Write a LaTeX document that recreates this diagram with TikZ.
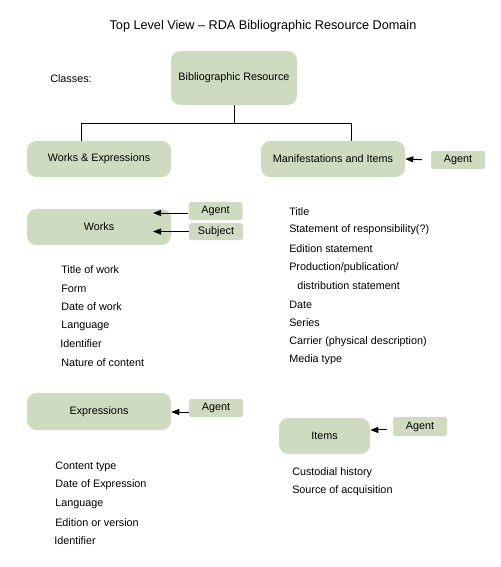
\documentclass[tikz,border=0pt]{standalone}
\usepackage{fontspec}
\setmainfont{Liberation Sans}
\usetikzlibrary{arrows.meta}
\definecolor{sage}{RGB}{207,219,192}
\begin{document}
\begin{tikzpicture}[x=0.75pt,y=-0.75pt,
  every node/.style={font=\fontsize{8.1}{9.5}\selectfont, inner sep=0pt},
  big/.style={fill=sage, rounded corners=7pt, minimum width=108pt, minimum height=27pt},
  small/.style={fill=sage, rounded corners=2pt, minimum width=40.5pt, minimum height=13.5pt},
  attr/.style={anchor=west},
  arr/.style={-{Triangle[length=6pt,width=4.5pt]}, line width=0.75pt},
  conn/.style={line width=0.75pt}]
\useasboundingbox (0,0) rectangle (500,567);
\node (title) at (263,26) {\fontsize{9.5}{11}\selectfont Top Level View – RDA Bibliographic Resource Domain};
\node[attr] (classes) at (50,79) {Classes:};
\node[big, minimum width=94.5pt, minimum height=40.5pt] (br) at (234,78) {Bibliographic Resource};
\node[big] (we) at (99,159) {Works \& Expressions};
\node[big] (mi) at (333,159) {Manifestations and Items};
\node[small] (am) at (458,160) {Agent};
\coordinate (jl) at (81,123);
\coordinate (jr) at (351,123);
\draw[conn] (br.south) -- (br.south |- jl);
\draw[conn] (jl |- we.north) -- (jl) -- (jr) -- (jr |- mi.north);
\draw[arr, shorten <=6.75pt] (am.west) -- (mi.east);

\node[big] (wk) at (99,227) {Works};
\node[small] (aw) at (215.5,211) {Agent};
\node[small, minimum height=12.75pt] (sw) at (216,231.5) {Subject};
\coordinate (wtip) at (153,227);
\draw[arr] ([yshift=-1.5pt]aw.west) -- ([yshift=-1.5pt]aw.west -| wtip);
\draw[arr] (sw.west) -- (sw.west -| wtip);

\node[attr] (w1) at (61,270) {Title of work};
\node[attr] (w2) at (61,289) {Form};
\node[attr] (w3) at (61,307) {Date of work};
\node[attr] (w4) at (61,326) {Language};
\node[attr] (w5) at (60,344) {Identifier};
\node[attr] (w6) at (61,363) {Nature of content};

\node[attr] (m1) at (289,212) {Title};
\node[attr] (m2) at (289,230) {Statement of responsibility(?)};
\node[attr] (m3) at (289,249) {Edition statement};
\node[attr] (m4) at (289,268) {Production/publication/};
\node[attr] (m5) at (297,286) {distribution statement};
\node[attr] (m6) at (289,305) {Date};
\node[attr] (m7) at (289,323) {Series};
\node[attr] (m8) at (289,342) {Carrier (physical description)};
\node[attr] (m9) at (289,360) {Media type};

\node[big, minimum height=27.75pt] (ex) at (99,411.5) {Expressions};
\node[small] (ae) at (216,408) {Agent};
\draw[arr] ([yshift=-3pt]ae.west) -- ([yshift=-3pt]ae.west -| ex.east);

\node[big, minimum width=68.25pt] (it) at (324.5,436) {Items};
\node[small, minimum height=14.25pt] (ai) at (420,426.5) {Agent};
\draw[arr, shorten <=4.5pt] ([yshift=-2.6pt]ai.west) -- ([yshift=-2.6pt]ai.west -| it.east);

\node[attr] (e1) at (55,467) {Content type};
\node[attr] (e2) at (55,485) {Date of Expression};
\node[attr] (e3) at (55,504) {Language};
\node[attr] (e4) at (55,523) {Edition or version};
\node[attr] (e5) at (54,541) {Identifier};

\node[attr] (i1) at (292,473) {Custodial history};
\node[attr] (i2) at (292,491) {Source of acquisition};
\end{tikzpicture}
\end{document}
